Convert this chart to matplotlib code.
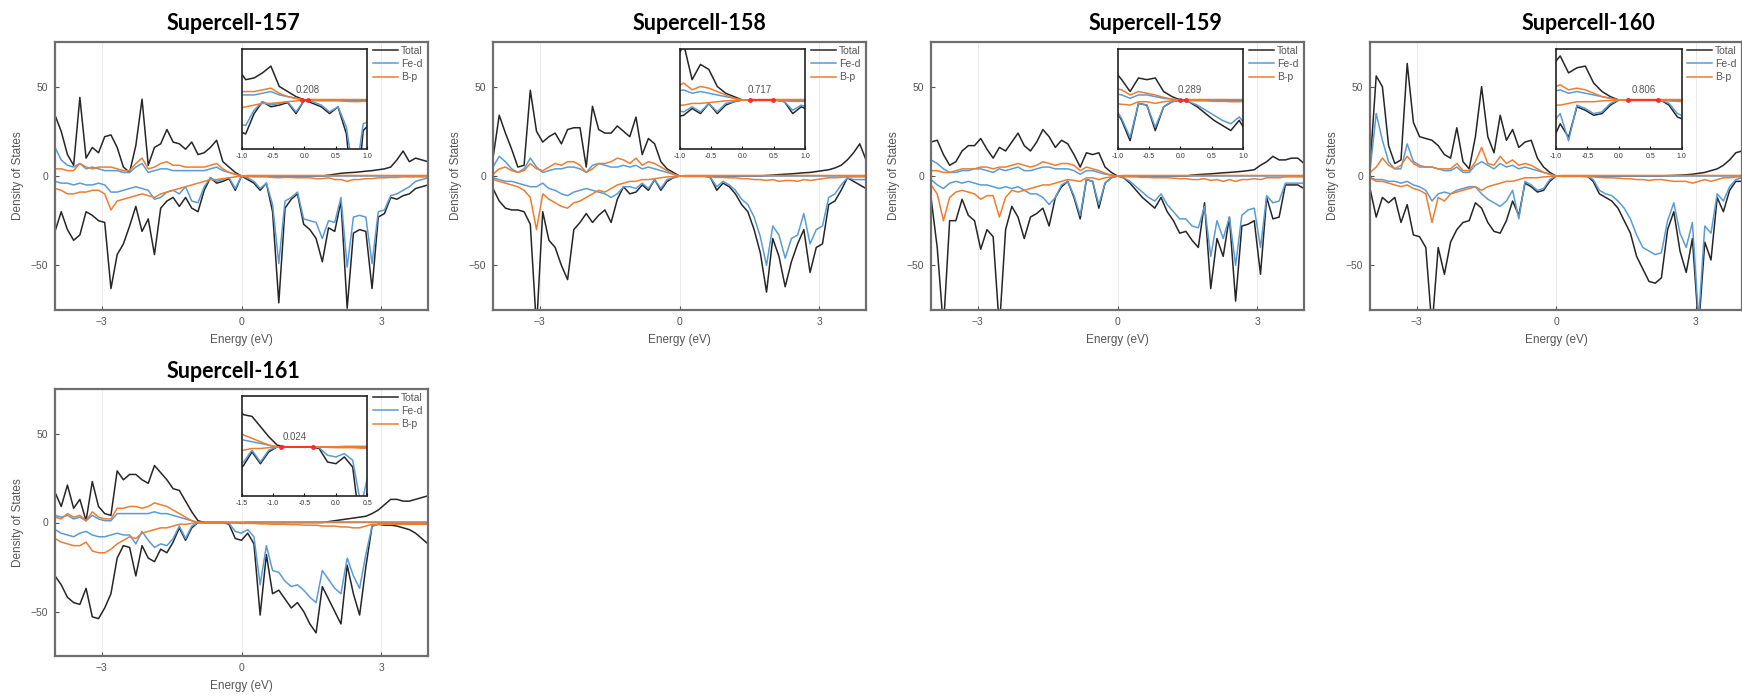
import numpy as np
import matplotlib
matplotlib.use("Agg")
import matplotlib.pyplot as plt

plt.rcParams['font.family'] = ['Liberation Sans', 'DejaVu Sans']

# energy grid (eV), 61 points from -4 to 4
energy = np.linspace(-4, 4, 61)

titles = ['Supercell-157', 'Supercell-158', 'Supercell-159', 'Supercell-160', 'Supercell-161']
gap_labels = ['0.208', '0.717', '0.289', '0.806', '0.024']
gap_lo = [-0.04, 0.12, 0.00, 0.15, -0.87]
gap_hi = [0.05, 0.49, 0.09, 0.63, -0.36]
gap_text_x = [0.05, 0.28, 0.14, 0.39, -0.66]
inset_xlim = [(-1, 1), (-1, 1), (-1, 1), (-1, 1), (-1.5, 0.5)]

# ---- Supercell-157
tot_up_157 = [34, 25, 12, 6, 44, 10, 16, 13, 22, 23,
              16, 5, 2, 17, 43, 6, 16, 18, 26, 19,
              18, 15, 19, 12, 13, 16, 20, 8, 5, 2,
              0,
              0, 0, 0, 0, 0, 0, 0, 0, 0, 0,
              0, 0, 0, 0.5, 1, 1.5, 1.8, 2, 2.3, 2.7,
              3, 3.5, 4, 5, 9, 14, 8, 10, 9, 8]
tot_dn_157 = [-31, -20, -30, -36, -33, -20, -22, -25, -26, -63,
              -44, -38, -28, -17, -31, -24, -44, -18, -14, -12,
              -17, -12, -18, -20, -8, -1, -4, -3, -1.5, -8,
              0,
              -2, -4, -8, -4, -20, -71, -18, -13, -10, -27,
              -30, -35, -48, -29, -31, -14, -74, -32, -30, -31,
              -63, -23, -21, -12, -13, -11, -10, -7, -6, -5]
fed_up_157 = [16, 9, 6, 5, 7, 4, 5, 4, 3, 3,
              3, 2, 2, 5, 7, 2, 3, 4, 4, 3,
              3, 3, 3, 3, 3, 4, 5, 3, 2, 1,
              0,
              0, 0, 0, 0, 0, 0, 0, 0, 0, 0,
              0, 0, 0, 0, 0, 0, 0, 0, 0, 0,
              0, 0, 0, 0, 0, 0, 0, 0, 0, 0]
fed_dn_157 = [-3, -4, -4, -5, -4, -5, -5, -4, -5, -9,
              -9, -8, -7, -6, -7, -8, -13, -12, -9, -8,
              -10, -6, -14, -15, -6, -1, -3, -2, -1, -7,
              0,
              -1, -3, -7, -4, -16, -49, -14, -12, -9, -24,
              -25, -26, -35, -25, -26, -12, -51, -23, -22, -23,
              -49, -20, -19, -11, -10, -8, -6, -3, -2, -1]
bp_up_157 = [4, 4, 3, 3, 7, 5, 4, 5, 5, 5,
             4, 3, 3, 7, 10, 4, 5, 7, 8, 6,
             6, 5, 5, 5, 5, 6, 7, 4, 2, 1,
             0,
             0.3, 0.3, 0.3, 0.3, 0.3, 0.3, 0.3, 0.3, 0.3, 0.3,
             0.3, 0.3, 0.3, 0.3, 0.3, 0.3, 0.3, 0.3, 0.3, 0.3,
             0.3, 0.3, 0.3, 0.3, 0.3, 0.3, 0.3, 0.3, 0.3, 0.3]
bp_dn_157 = [-7, -8, -10, -10, -9, -9, -8, -8, -10, -19,
             -14, -13, -12, -11, -10, -11, -12, -10, -9, -8,
             -7, -6, -5, -4, -3, -2, -2, -1.5, -1, -0.5,
             0,
             -0.3, -0.5, -0.5, -0.5, -0.8, -1, -0.8, -0.8, -1, -1,
             -1, -1.5, -1.5, -1, -2, -2, -3, -2, -2, -1.5,
             -1.5, -1, -1, -0.8, -0.8, -0.5, -0.5, -0.5, -0.5, -0.5]

# ---- Supercell-158
tot_up_158 = [10, 34, 24, 15, 5, 6, 48, 25, 19, 22,
              24, 18, 26, 27, 27, 5, 39, 26, 24, 24,
              28, 25, 22, 33, 12, 21, 18, 8, 4, 2,
              0,
              0, 0, 0, 0, 0, 0, 0, 0, 0, 0,
              0, 0, 0, 0.3, 0.5, 0.8, 1, 1.2, 1.5, 1.8,
              2, 2.5, 3, 3.5, 4.5, 6, 9, 13, 18, 9]
tot_dn_158 = [-7, -14, -18, -19, -19, -20, -27, -85, -20, -36,
              -40, -50, -58, -30, -26, -21, -26, -22, -19, -26,
              -13, -6, -10, -9, -5, -8, -2, -8, -3, -1,
              0,
              0, 0, 0, 0, -1, -8, -4, -6, -10, -16,
              -20, -30, -43, -65, -35, -45, -62, -48, -38, -30,
              -54, -40, -38, -16, -14, -8, -1, -3, -5, -7]
fed_up_158 = [5, 11, 8, 4, 2, 4, 10, 5, 2, 3,
              4, 4, 5, 5, 4, 2, 6, 7, 6, 5,
              5, 6, 5, 6, 4, 5, 4, 3, 2, 1,
              0,
              0, 0, 0, 0, 0, 0, 0, 0, 0, 0,
              0, 0, 0, 0, 0, 0, 0, 0, 0, 0,
              0, 0, 0, 0, 0, 0, 0, 0, 0, 0]
fed_dn_158 = [-1, -2, -3, -3, -4, -5, -6, -6, -4, -7,
              -8, -10, -11, -9, -8, -7, -8, -9, -10, -12,
              -10, -6, -6, -7, -4, -7, -2, -7, -2, -1,
              0,
              0, 0, 0, 0, -1, -6, -3, -5, -8, -13,
              -16, -23, -34, -50, -28, -33, -46, -35, -33, -21,
              -38, -30, -28, -12, -10, -5, -1, -2, -2, -2]
bp_up_158 = [1, 4, 5, 3, 2, 3, 7, 4, 3, 5,
             7, 6, 8, 8, 6, 2, 4, 7, 7, 8,
             10, 9, 7, 10, 6, 8, 7, 5, 3, 1,
             0,
             0.3, 0.3, 0.3, 0.3, 0.3, 0.3, 0.3, 0.3, 0.3, 0.3,
             0.3, 0.3, 0.3, 0.3, 0.3, 0.3, 0.3, 0.3, 0.3, 0.3,
             0.3, 0.3, 0.3, 0.3, 0.3, 0.3, 0.3, 0.3, 0.3, 0.3]
bp_dn_158 = [-2, -3, -4, -5, -6, -8, -12, -30, -10, -13,
             -15, -17, -18, -15, -14, -12, -10, -8, -9, -7,
             -5, -4, -3, -3, -2, -2, -1.5, -1, -0.5, -0.3,
             0,
             -0.3, -0.3, -0.3, -0.3, -0.5, -0.8, -0.8, -1, -1, -1.5,
             -1.5, -2, -2, -2.5, -2, -3, -2.5, -2.5, -3, -2,
             -2.5, -2, -1.5, -1, -1, -0.8, -0.5, -0.5, -0.5, -0.5]

# ---- Supercell-159
tot_up_159 = [19, 20, 12, 6, 8, 14, 17, 17, 21, 15,
              10, 16, 14, 19, 24, 17, 14, 19, 26, 22,
              16, 20, 18, 12, 5, 13, 12, 13, 5, 2,
              0,
              0, 0, 0, 0, 0, 0, 0, 0, 0, 0,
              0, 0.5, 0.8, 1, 1.2, 1.5, 1.8, 2, 2.3, 2.6,
              3, 3.5, 6, 8, 11, 9, 9, 10, 10, 7]
tot_dn_159 = [-12, -40, -85, -25, -25, -13, -22, -25, -41, -30,
              -34, -85, -30, -17, -23, -35, -23, -21, -18, -28,
              -12, -6, -3, -12, -24, -2, -3, -18, -4, -1,
              0,
              -1, -4, -8, -12, -15, -18, -12, -20, -25, -32,
              -31, -36, -40, -15, -63, -35, -45, -23, -70, -28,
              -27, -25, -55, -12, -24, -23, -5, -5, -5, -7]
fed_up_159 = [9, 7, 4, 2, 2, 3, 3, 4, 4, 3,
              2, 4, 3, 4, 5, 3, 3, 4, 5, 5,
              4, 4, 4, 3, 1, 3, 3, 2, 1, 0.5,
              0,
              0, 0, 0, 0, 0, 0, 0, 0, 0, 0,
              0, 0, 0, 0, 0, 0, 0, 0, 0, 0,
              0, 0, 0, 0, 0, 0, 0, 0, 0, 0]
fed_dn_159 = [-2, -5, -7, -4, -3, -4, -3, -4, -5, -5,
              -6, -7, -6, -7, -6, -8, -10, -10, -12, -16,
              -12, -5, -3, -11, -22, -2, -3, -16, -4, -1,
              0,
              -1, -3, -6, -9, -12, -14, -10, -16, -20, -24,
              -24, -28, -29, -17, -45, -25, -35, -23, -50, -22,
              -19, -18, -40, -11, -15, -14, -4, -4, -4, -4]
bp_up_159 = [3, 3, 2, 2, 3, 4, 4, 4, 5, 5,
             4, 5, 5, 6, 7, 6, 5, 6, 8, 7,
             6, 7, 7, 6, 3, 5, 4, 3, 1.5, 0.5,
             0,
             0.3, 0.3, 0.3, 0.3, 0.3, 0.3, 0.3, 0.3, 0.3, 0.3,
             0.3, 0.3, 0.3, 0.3, 0.3, 0.3, 0.3, 0.3, 0.3, 0.3,
             0.3, 0.3, 0.3, 0.3, 0.3, 0.3, 0.3, 0.3, 0.3, 0.3]
bp_dn_159 = [-5, -10, -25, -12, -9, -8, -9, -10, -13, -11,
             -11, -23, -12, -8, -9, -8, -7, -6, -5, -5,
             -4, -3, -2, -2.5, -3, -1, -1, -2, -1, -0.5,
             0,
             -0.3, -0.5, -0.5, -0.8, -0.8, -1, -1, -1, -1.2, -1.5,
             -1.5, -2, -2, -1.5, -2.5, -2, -3, -2, -3, -2,
             -2, -1.5, -2, -1, -1, -1, -0.5, -0.5, -0.5, -0.5]

# ---- Supercell-160
tot_up_160 = [5, 56, 50, 17, 7, 9, 63, 30, 22, 21,
              20, 17, 12, 10, 27, 8, 4, 22, 50, 22,
              13, 34, 20, 26, 16, 19, 20, 10, 5, 2,
              0,
              0, 0, 0, 0, 0, 0, 0, 0, 0, 0,
              0, 0, 0, 0, 0, 0, 0, 0.2, 0.3, 0.5,
              0.7, 1, 1.5, 2, 3, 4, 6, 9, 13, 14]
tot_dn_160 = [-7, -23, -12, -15, -12, -26, -16, -33, -34, -40,
              -85, -40, -55, -37, -30, -26, -25, -15, -18, -26,
              -31, -32, -25, -14, -22, -4, -6, -9, -8, -3,
              0,
              0, 0, 0, 0, 0, -3, -10, -12, -14, -18,
              -25, -32, -45, -52, -59, -60, -57, -30, -20, -42,
              -54, -35, -85, -37, -47, -12, -20, -8, -3, -3]
fed_up_160 = [3, 35, 20, 8, 4, 4, 18, 8, 6, 5,
              5, 4, 3, 3, 5, 2, 2, 6, 8, 6,
              4, 7, 5, 6, 4, 5, 4, 3, 2, 1,
              0,
              0, 0, 0, 0, 0, 0, 0, 0, 0, 0,
              0, 0, 0, 0, 0, 0, 0, 0, 0, 0,
              0, 0, 0, 0, 0, 0, 0, 0, 0, 0]
fed_dn_160 = [-1, -2, -2, -3, -3, -4, -3, -5, -6, -8,
              -14, -10, -9, -10, -8, -7, -6, -6, -10, -13,
              -15, -17, -14, -8, -24, -3, -5, -8, -7, -2,
              0,
              0, 0, 0, 0, 0, -2, -8, -10, -11, -14,
              -18, -24, -33, -40, -42, -44, -43, -25, -15, -32,
              -40, -26, -80, -28, -32, -10, -14, -6, -2, -1]
bp_up_160 = [2, 5, 10, 6, 4, 6, 11, 7, 5, 5,
             5, 4, 4, 4, 7, 3, 3, 8, 16, 7,
             6, 11, 7, 9, 6, 7, 6, 4, 2, 1,
             0,
             0.3, 0.3, 0.3, 0.3, 0.3, 0.3, 0.3, 0.3, 0.3, 0.3,
             0.3, 0.3, 0.3, 0.3, 0.3, 0.3, 0.3, 0.3, 0.3, 0.3,
             0.3, 0.3, 0.3, 0.3, 0.3, 0.3, 0.3, 0.3, 0.3, 0.3]
bp_dn_160 = [-1, -3, -3, -4, -5, -6, -5, -7, -8, -10,
             -26, -12, -14, -10, -9, -8, -7, -6, -8, -6,
             -5, -4, -3, -3, -2, -1, -1, -1, -0.5, -0.3,
             0,
             -0.3, -0.3, -0.3, -0.3, -0.5, -0.5, -0.8, -1, -1, -1.2,
             -1.5, -1.5, -2, -2, -2.5, -2, -2, -2.5, -3, -3,
             -3, -4, -3, -2, -3, -2, -1, -1, -0.5, -0.5]

# ---- Supercell-161
tot_up_161 = [17, 9, 21, 8, 13, 1, 23, 9, 5, 4,
              29, 24, 27, 27, 24, 22, 32, 28, 24, 19,
              18, 12, 6, 1, 0, 0, 0, 0, 0, 0,
              0,
              0, 0, 0, 0, 0, 0, 0, 0, 0, 0,
              0, 0, 0, 0.5, 1, 1.5, 2, 2.5, 3, 3.5,
              5, 7, 10, 13, 13, 12, 12, 13, 14, 15]
tot_dn_161 = [-30, -35, -42, -45, -46, -37, -53, -54, -48, -40,
              -20, -13, -14, -30, -13, -20, -22, -15, -17, -11,
              -3, -10, -3, 0, 0, 0, 0, 0, -1, -9,
              -10,
              -6, -12, -52, -18, -40, -38, -43, -48, -45, -50,
              -57, -62, -36, -43, -50, -57, -24, -40, -52, -25,
              -2, -1, -1.5, -1.5, -2, -3, -4, -6, -9, -12]
fed_up_161 = [4, 3, 4, 2, 3, 1, 4, 2, 1, 1,
              5, 5, 5, 5, 5, 5, 6, 5, 5, 4,
              3, 2, 1, 0, 0, 0, 0, 0, 0, 0,
              0,
              0, 0, 0, 0, 0, 0, 0, 0, 0, 0,
              0, 0, 0, 0, 0, 0, 0, 0, 0, 0,
              0, 0, 0, 0, 0, 0, 0, 0, 0, 0]
fed_dn_161 = [-4, -6, -7, -8, -6, -5, -7, -8, -8, -7,
              -6, -7, -7, -12, -5, -10, -14, -12, -13, -9,
              -2, -9, -2, 0, 0, 0, 0, 0, -0.5, -5,
              -6,
              -4, -8, -35, -13, -27, -28, -33, -36, -35, -38,
              -42, -45, -27, -32, -37, -40, -20, -30, -37, -18,
              -2, -1, -0.5, -0.5, -0.5, -0.5, -0.5, -0.5, -0.5, -0.5]
bp_up_161 = [3, 2, 5, 3, 4, 1, 6, 3, 2, 2,
             8, 8, 9, 9, 8, 9, 11, 10, 9, 7,
             5, 3, 1, 0, 0, 0, 0, 0, 0, 0,
             0,
             0.3, 0.3, 0.3, 0.3, 0.3, 0.3, 0.3, 0.3, 0.3, 0.3,
             0.3, 0.3, 0.3, 0.3, 0.3, 0.3, 0.3, 0.3, 0.3, 0.3,
             0.3, 0.3, 0.3, 0.3, 0.3, 0.3, 0.3, 0.3, 0.3, 0.3]
bp_dn_161 = [-9, -11, -12, -13, -13, -11, -16, -17, -17, -15,
             -12, -10, -8, -9, -6, -5, -4, -3, -3, -2,
             -1, -1, -0.5, 0, 0, 0, 0, 0, 0, -0.3,
             -0.5,
             -0.5, -0.5, -0.8, -0.8, -1, -1, -1, -1.2, -1.2, -1.5,
             -1.5, -1.5, -2, -2, -2, -2.5, -2.5, -3, -3, -2,
             -1, -1, -1, -1, -1, -1, -1, -1, -1, -1]

panels = [
    (tot_up_157, tot_dn_157, fed_up_157, fed_dn_157, bp_up_157, bp_dn_157),
    (tot_up_158, tot_dn_158, fed_up_158, fed_dn_158, bp_up_158, bp_dn_158),
    (tot_up_159, tot_dn_159, fed_up_159, fed_dn_159, bp_up_159, bp_dn_159),
    (tot_up_160, tot_dn_160, fed_up_160, fed_dn_160, bp_up_160, bp_dn_160),
    (tot_up_161, tot_dn_161, fed_up_161, fed_dn_161, bp_up_161, bp_dn_161),
]

c_tot = '#262626'
c_fe = '#5b9bd5'
c_b = '#ed7d31'

W, H = 1742, 697
fig = plt.figure(figsize=(W / 100, H / 100), dpi=100)

# axes boxes in pixels: (left, top, right, bottom)
boxes = [(55, 42, 428, 310), (493, 42, 866, 310), (931, 42, 1304, 310),
         (1370, 42, 1742, 310), (55, 389, 428, 656)]
title_pos = [(233, 23), (699, 23), (1155, 23), (1588, 23), (233, 372)]


def draw_lines(ax, d, lw):
    tu, td, fu, fd, bu, bd = d
    ax.plot(energy, tu, color=c_tot, lw=lw, label='Total')
    ax.plot(energy, td, color=c_tot, lw=lw)
    ax.plot(energy, fu, color=c_fe, lw=lw, label='Fe-d')
    ax.plot(energy, fd, color=c_fe, lw=lw)
    ax.plot(energy, bu, color=c_b, lw=lw, label='B-p')
    ax.plot(energy, bd, color=c_b, lw=lw)


for i, d in enumerate(panels):
    l, t, r, b = boxes[i]
    ax = fig.add_axes([l / W, 1 - b / H, (r - l) / W, (b - t) / H])
    draw_lines(ax, d, 1.1)
    ax.set_xlim(-4, 4)
    ax.set_ylim(-75, 75)
    ax.set_xticks([-3, 0, 3])
    ax.set_yticks([-50, 0, 50])
    ax.grid(axis='x', color='#e6e6e6', lw=0.6)
    ax.tick_params(direction='in', length=3, color='#555555', labelcolor='#555555',
                   labelsize=7.5, pad=5)
    for s in ax.spines.values():
        s.set_color('#6e6e6e')
        s.set_linewidth(1.6)
    ax.set_xlabel('Energy (eV)', fontsize=8.5, color='#555555', labelpad=5)
    ax.set_ylabel('Density of States', fontsize=8.5, color='#555555', labelpad=5)
    ax.legend(loc='upper left', bbox_to_anchor=(0.852, 0.985), frameon=False,
              fontsize=7.5, handlelength=2.4, handletextpad=0.3, labelspacing=0.3,
              borderpad=0, borderaxespad=0, labelcolor='#555555')

    # zoomed inset around the gap
    ins = ax.inset_axes([0, 15, 2.7, 56], transform=ax.transData)
    draw_lines(ins, d, 1.1)
    x0, x1 = inset_xlim[i]
    ins.set_xlim(x0, x1)
    ins.set_ylim(-29, 30)
    ins.set_xticks(np.linspace(x0, x1, 5))
    ins.set_xticklabels(['%.1f' % v for v in np.linspace(x0, x1, 5)])
    ins.set_yticks([])
    ins.tick_params(direction='in', length=2, labelsize=5, labelcolor='#333333', pad=3)
    for s in ins.spines.values():
        s.set_color('#222222')
        s.set_linewidth(1.2)
    ins.plot([gap_lo[i], gap_hi[i]], [0, 0], color='#ff2a2a', lw=1.2, marker='o', ms=2.5)
    ins.text(gap_text_x[i], 3, gap_labels[i], fontsize=7, color='#555555',
             ha='center', va='bottom')

    fig.text(title_pos[i][0] / W, 1 - title_pos[i][1] / H, titles[i], fontsize=15.5,
             fontweight='bold', family=['Lato', 'DejaVu Sans'], ha='center', va='center')

fig.savefig('out.png', dpi=100)
